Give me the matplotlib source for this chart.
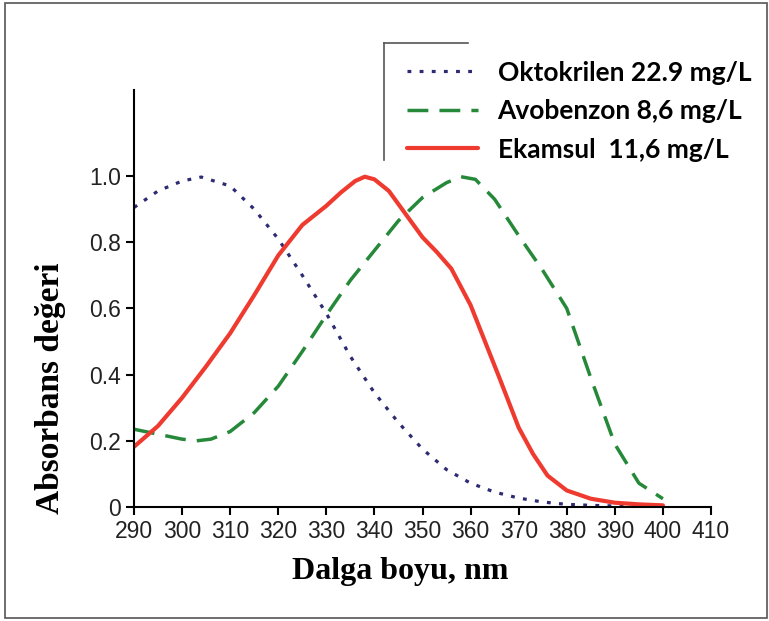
import matplotlib
matplotlib.use("Agg")
import matplotlib.pyplot as plt
from matplotlib.patches import Rectangle
from matplotlib.lines import Line2D

# Okunan degerler (grafikten tahmini)
okto_wl = [290, 295, 300, 304, 310, 315, 320, 325, 330, 335, 340, 345, 350,
           355, 360, 365, 370, 375, 380, 385, 390, 395, 400]
okto_abs = [0.905, 0.955, 0.985, 0.997, 0.970, 0.900, 0.810, 0.700, 0.585,
            0.455, 0.345, 0.255, 0.175, 0.113, 0.072, 0.045, 0.027, 0.015,
            0.008, 0.005, 0.003, 0.002, 0.001]

avo_wl = [290, 295, 300, 303, 306, 310, 315, 320, 325, 330, 335, 340, 345,
          350, 355, 358, 361, 365, 370, 375, 380, 385, 390, 395, 400]
avo_abs = [0.235, 0.220, 0.205, 0.200, 0.205, 0.228, 0.285, 0.365, 0.470,
           0.580, 0.685, 0.775, 0.865, 0.935, 0.980, 0.998, 0.990, 0.930,
           0.820, 0.715, 0.600, 0.390, 0.190, 0.072, 0.025]

eka_wl = [290, 295, 300, 305, 310, 315, 320, 325, 330, 333, 336, 338, 340,
          343, 347, 350, 353, 356, 360, 363, 366, 370, 373, 376, 380, 385,
          390, 395, 400]
eka_abs = [0.182, 0.245, 0.330, 0.425, 0.525, 0.640, 0.760, 0.852, 0.910,
           0.950, 0.985, 0.998, 0.990, 0.955, 0.875, 0.815, 0.770, 0.720,
           0.610, 0.500, 0.390, 0.240, 0.160, 0.095, 0.050, 0.025, 0.013,
           0.008, 0.005]

labels = ["Oktokrilen 22.9 mg/L", "Avobenzon 8,6 mg/L", "Ekamsul  11,6 mg/L"]
x_ticks = list(range(290, 411, 10))
y_ticks = [0, 0.2, 0.4, 0.6, 0.8, 1.0]
y_tick_labels = ["0", "0.2", "0.4", "0.6", "0.8", "1.0"]


def main():
    fig = plt.figure(figsize=(7.69, 6.21), dpi=100)
    ax = fig.add_axes([134 / 769, 1 - 507 / 621, 577 / 769, 417 / 621])

    l1, = ax.plot(okto_wl, okto_abs, color="#2d2b72", lw=2.3,
                  linestyle=(0, (1.2, 2.6)))
    l2, = ax.plot(avo_wl, avo_abs, color="#26893a", lw=2.5,
                  linestyle=(0, (6.0, 3.2)))
    l3, = ax.plot(eka_wl, eka_abs, color="#ef3b2f", lw=3.0,
                  solid_capstyle="round", solid_joinstyle="round")

    ax.set_xlim(290, 410)
    ax.set_ylim(0, 1.26)
    ax.set_xticks(x_ticks)
    ax.set_yticks(y_ticks)
    ax.set_yticklabels(y_tick_labels)

    for s in ["top", "right"]:
        ax.spines[s].set_visible(False)
    for s in ["left", "bottom"]:
        ax.spines[s].set_linewidth(1.5)
        ax.spines[s].set_color("black")

    ax.tick_params(axis="both", direction="out", length=6, width=1.5,
                   labelsize=16.5, labelcolor="#222222")
    for t in ax.get_xticklabels() + ax.get_yticklabels():
        t.set_family("Liberation Sans")

    ax.set_xlabel("Dalga boyu, nm", family="Liberation Serif",
                  fontweight="bold", fontsize=23)
    ax.xaxis.set_label_coords(0.461, -0.12)
    ax.set_ylabel("Absorbans değeri", family="Liberation Serif",
                  fontweight="bold", fontsize=24)
    ax.yaxis.set_label_coords(-0.117, 0.285)

    ax.legend([l1, l2, l3], labels, loc="upper left",
              bbox_to_anchor=(396 / 769, 1 - 50 / 621),
              bbox_transform=fig.transFigure, frameon=False,
              handlelength=2.7, handletextpad=0.75, labelspacing=0.55,
              borderaxespad=0,
              prop={"family": "Lato", "weight": "bold", "size": 19})

    # legend kutusunun kismi cercevesi
    fig.add_artist(Line2D([384 / 769, 384 / 769], [1 - 43 / 621, 1 - 160 / 621],
                          transform=fig.transFigure, color="#555555", lw=1.2))
    fig.add_artist(Line2D([384 / 769, 468 / 769], [1 - 43 / 621, 1 - 43 / 621],
                          transform=fig.transFigure, color="#555555", lw=1.2))

    # dis cerceve
    fig.add_artist(Rectangle((5 / 769, 1 - 618 / 621), 762 / 769, 615 / 621,
                             transform=fig.transFigure, fill=False,
                             edgecolor="#555555", lw=1.2))

    fig.savefig("out.png", dpi=100)


if __name__ == '__main__':
    main()
